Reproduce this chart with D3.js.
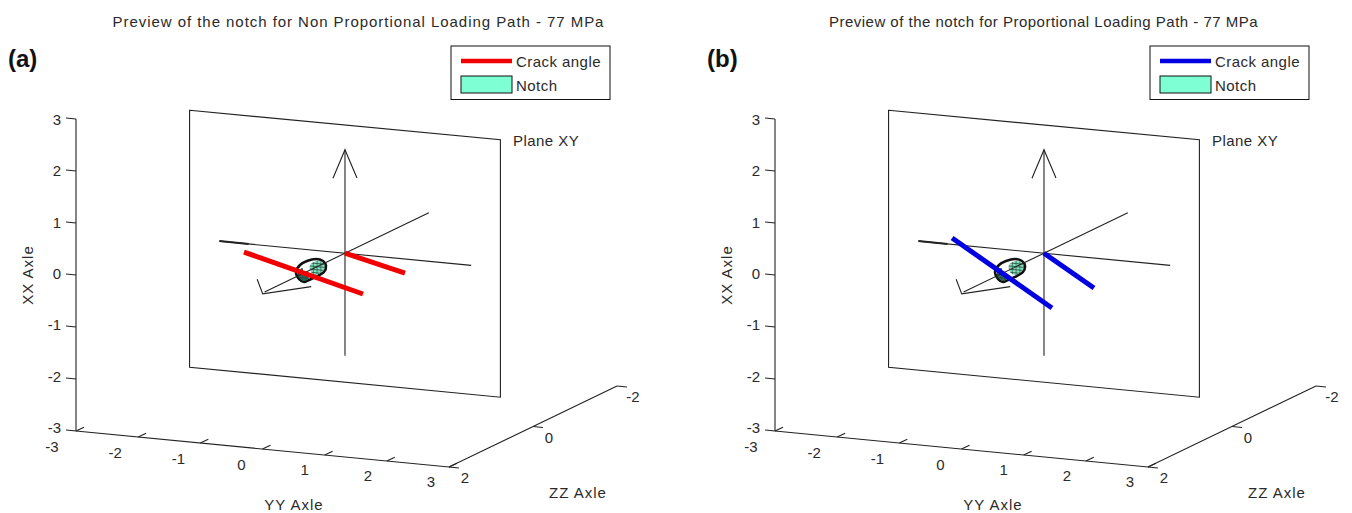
<!DOCTYPE html>
<html>
<head>
<meta charset="utf-8">
<script src="https://d3js.org/d3.v7.min.js"></script>
<style>
  html, body { margin: 0; padding: 0; background: #fff; }
  svg { display: block; }
  text { font-family: "Liberation Sans", sans-serif; fill: #2a2a2a; }
  .line { fill: none; stroke: #222; stroke-width: 1.1; }
  .title { font-size: 15px; }
  .tick { font-size: 15px; text-anchor: middle; }
  .label { font-size: 15px; letter-spacing: 0.45px; }
  .axis-label { font-size: 15px; letter-spacing: 1px; text-anchor: middle; }
  .panel { font-size: 24px; font-weight: bold; fill: #111; }
</style>
</head>
<body>
<svg id="chart" width="1352" height="513"></svg>
<script>
  // tick values of the three axes
  const xxTicks = [-3, -2, -1, 0, 1, 2, 3]
  const yyTicks = [-3, -2, -1, 0, 1, 2, 3]
  const zzTicks = [-2, 0, 2]

  // everything below is [yy, xx, zz]
  const planeZ = 0.036
  const planeCorners = [[-2.5, 2.46], [2.5, 2.47], [2.5, -2.48], [-2.5, -2.48]]
  const arrowShaft = [[0, -1.97, planeZ], [0, 1.99, planeZ]]
  const arrowHead = [[-0.193, 1.42, planeZ], [0, 1.99, planeZ], [0.193, 1.47, planeZ]]
  const yyLine = [[-2.02, 0, planeZ], [2.03, 0, planeZ]]
  const yyLineEnd = [[-2.02, 0, planeZ], [-1.55, 0, planeZ]]
  const zzLine = [[0, 0, -1.96], [0, 0, 1.95]]
  const tail = [[-0.12, 0.23, 1.95], [-0.03, -0.04, 1.95], [0.75, 0.19, 1.95]]

  const notchZ = 0.7
  const notchRim = [[-0.339, -0.141], [-0.275, 0.001], [-0.162, 0.091], [-0.018, 0.146], [0.095, 0.121], [0.143, 0.03], [0.111, -0.089], [-0.018, -0.2], [-0.13, -0.271], [-0.211, -0.319], [-0.291, -0.27]]
  const notchBack = [[-0.114, 0.02], [-0.018, 0.107], [0.079, 0.099], [0.127, 0.028], [0.095, -0.072], [-0.018, -0.162], [-0.098, -0.113]]
  const notchFront = [[-0.307, -0.157], [-0.243, -0.053], [-0.211, -0.126], [-0.13, -0.232], [-0.195, -0.298], [-0.275, -0.268]]
  const hatchYY = [-0.3, -0.24, -0.18, -0.12, -0.06, 0, 0.06, 0.12]
  const hatchXX = [-0.3, -0.24, -0.18, -0.12, -0.06, 0, 0.06]

  const cracksA = [[[-1.176, 0.146, 0.7], [0.738, -0.44, 0.7]], [[0, 0, planeZ], [0.965, -0.27, planeZ]]]
  const cracksB = [[[-1.03, 0.433, 0.7], [0.577, -0.727, 0.7]], [[0, 0, planeZ], [0.804, -0.577, planeZ]]]

  const panels = [
    {letter: "(a)", title: "Preview of the notch for Non Proportional Loading Path - 77 MPa", titleX: 358.5, spacing: 0.95, color: "#f00000", cracks: cracksA, dx: 0},
    {letter: "(b)", title: "Preview of the notch for Proportional Loading Path - 77 MPa", titleX: 344.5, spacing: 0.49, color: "#0000e0", cracks: cracksB, dx: 699}
  ]

  // oblique projection of the 3D box onto the page
  const yyToX = d3.scaleLinear().domain([-3, 3]).range([76, 449])
  const yyToY = d3.scaleLinear().domain([-3, 3]).range([0, 36])
  const zzToX = d3.scaleLinear().domain([2, -2]).range([0, 168])
  const zzToY = d3.scaleLinear().domain([2, -2]).range([0, -81])
  const xxToY = d3.scaleLinear().domain([-3, 3]).range([431, 119])

  const px = d => yyToX(d[0]) + zzToX(d[2])
  const py = d => xxToY(d[1]) + yyToY(d[0]) + zzToY(d[2])
  const line3d = d3.line().x(px).y(py)
  const blob3d = d3.line().x(px).y(py).curve(d3.curveCardinalClosed)

  // tick label rows sit on their own scales, they do not follow the box exactly
  const xxLabelY = d3.scaleLinear().domain([-3, 3]).range([433, 125])
  const yyLabelX = d3.scaleLinear().domain([-3, 3]).range([52, 431])
  const yyLabelY = d3.scaleLinear().domain([-3, 3]).range([452, 487])
  const zzLabelX = d3.scaleLinear().domain([2, -2]).range([465, 633])
  const zzLabelY = d3.scaleLinear().domain([2, -2]).range([483, 402])

  const svg = d3.select("#chart")

  panels.forEach((p, pi) => {
    const g = svg.append("g").attr("transform", "translate(" + p.dx + ",0)")
    const path = (pts) => g.append("path").attr("class", "line").attr("d", line3d(pts))
    const onNotch = v => v.map(c => [c[0], c[1], notchZ])

    g.append("text").attr("class", "title").attr("x", p.titleX).attr("y", 27).attr("text-anchor", "middle")
      .style("letter-spacing", p.spacing + "px").text(p.title)
    g.append("text").attr("class", "panel").attr("x", 8).attr("y", 67).text(p.letter)

    // box edges
    path([[-3, -3, 2], [-3, 3, 2]])
    path([[-3, -3, 2], [3, -3, 2], [3, -3, -2]])

    // ticks
    xxTicks.forEach(t => {
      path([[-3, t, 2], [-3.16, t, 2]])
      g.append("text").attr("class", "tick").attr("x", 61).attr("y", xxLabelY(t)).style("text-anchor", "end").text(t)
    })
    yyTicks.forEach(t => {
      path([[t, -3, 2], [t, -3, 1.81]])
      g.append("text").attr("class", "tick").attr("x", yyLabelX(t)).attr("y", yyLabelY(t)).text(t)
    })
    zzTicks.forEach(t => {
      path([[3, -3, t], [3.16, -3, t]])
      g.append("text").attr("class", "tick").attr("x", zzLabelX(t)).attr("y", zzLabelY(t)).text(t)
    })

    g.append("text").attr("class", "axis-label").attr("x", 294).attr("y", 510).text("YY Axle")
    g.append("text").attr("class", "axis-label").attr("x", 578).attr("y", 498).text("ZZ Axle")
    g.append("text").attr("class", "axis-label").attr("transform", "translate(33,275) rotate(-90)").text("XX Axle")

    // plane
    g.append("path").attr("class", "line")
      .attr("d", line3d(planeCorners.map(c => [c[0], c[1], planeZ])) + "Z")
    g.append("text").attr("class", "label").attr("x", 513).attr("y", 146).text("Plane XY")

    // notch, a dark rim with two meshed patches inside
    g.append("path").attr("d", blob3d(onNotch(notchRim)))
      .attr("fill", "#fff").attr("stroke", "#111").attr("stroke-width", 2.6)
    const clipId = "notch-clip-" + pi
    const clip = g.append("clipPath").attr("id", clipId)
    clip.append("path").attr("d", blob3d(onNotch(notchBack)))
    clip.append("path").attr("d", blob3d(onNotch(notchFront)))
    const mesh = g.append("g").attr("clip-path", "url(#" + clipId + ")")
    mesh.append("path").attr("d", blob3d(onNotch(notchBack))).attr("fill", "#86e0bc")
    mesh.append("path").attr("d", blob3d(onNotch(notchFront))).attr("fill", "#2e6a58")
    hatchYY.forEach(t => mesh.append("path").attr("d", line3d(onNotch([[t, -0.4], [t, 0.2]])))
      .attr("stroke", "#1f4a3c").attr("stroke-width", 0.6))
    hatchXX.forEach(t => mesh.append("path").attr("d", line3d(onNotch([[-0.4, t], [0.2, t]])))
      .attr("stroke", "#1f4a3c").attr("stroke-width", 0.8))

    // axes through the plane centre
    path(yyLine)
    path(yyLineEnd).style("stroke-width", 2)
    path(zzLine)
    path(tail)
    path(arrowShaft)
    path(arrowHead)

    // crack lines
    p.cracks.forEach(c => {
      path(c).style("stroke", p.color).style("stroke-width", 5)
    })

    // legend
    const leg = g.append("g").attr("transform", "translate(451,46)")
    leg.append("rect").attr("width", 159).attr("height", 53.5).attr("fill", "#fff").attr("stroke", "#111")
    leg.append("line").attr("x1", 10).attr("x2", 61).attr("y1", 15).attr("y2", 15)
      .attr("stroke", p.color).attr("stroke-width", 4.5)
    leg.append("rect").attr("x", 10).attr("y", 30).attr("width", 51).attr("height", 17)
      .attr("fill", "#7fffd4").attr("stroke", "#111")
    leg.append("text").attr("class", "label").attr("x", 65).attr("y", 21).text("Crack angle")
    leg.append("text").attr("class", "label").attr("x", 65).attr("y", 45).text("Notch")
  })
</script>
</body>
</html>
